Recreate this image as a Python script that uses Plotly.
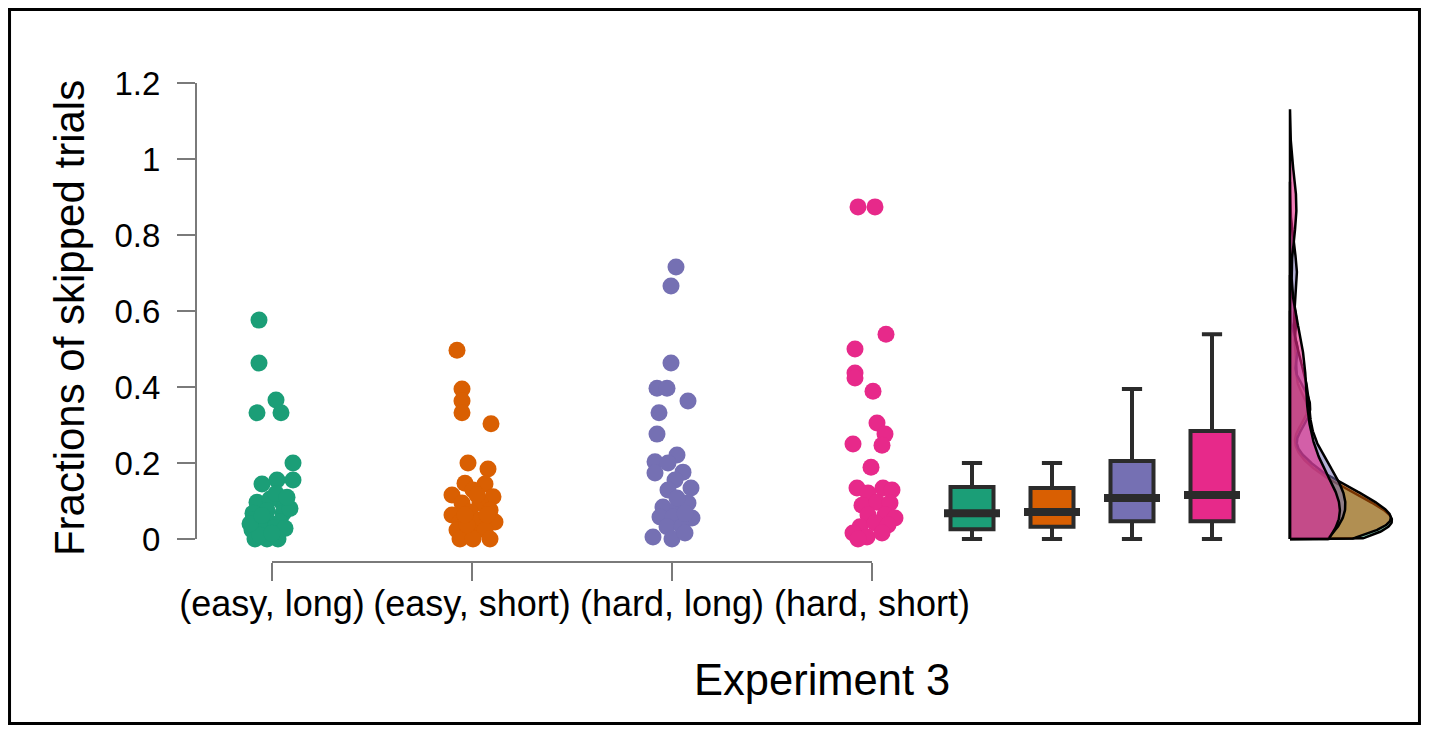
import numpy as np
import plotly.graph_objects as go

# ---------------- data ----------------
categories = ["(easy, long)", "(easy, short)", "(hard, long)", "(hard, short)"]
cat_pos = [1, 2, 3, 4]
colors = ["#1B9E77", "#D95F02", "#7570B3", "#E7298A"]
fills = ["rgba(27,158,119,0.55)", "rgba(217,95,2,0.55)",
         "rgba(117,112,179,0.55)", "rgba(231,41,138,0.6)"]

easy_long = [.576, .463, .332, .366, .332, .2, .145, .155, .155, .097, .097, .105,
             .068, .068, .075, .05, .05, .045, .08, .024, .024, .03, .028, 0, 0, 0,
             .01, .015, .04, .062, .12, .11]
easy_long_jit = [-0.065, -0.065, -0.075, 0.02, 0.045, 0.105, -0.05, 0.025, 0.105,
                 -0.075, 0.05, -0.01, -0.095, 0.055, -0.025, -0.095, -0.025, 0.04,
                 0.09, -0.1, -0.045, 0.015, 0.065, -0.085, -0.025, 0.03, -0.06, 0,
                 -0.11, -0.05, 0.02, 0.075]

easy_short = [.497, .395, .363, .332, .303, .2, .184, .147, .145, .116, .129, .111,
              .095, .095, .063, .071, .076, .045, .05, .045, .024, .024, .024, 0, 0,
              0, .037, .116, .063, .063]
easy_short_jit = [-0.075, -0.05, -0.05, -0.05, 0.095, -0.02, 0.08, -0.035, 0.065,
                  -0.1, 0.005, 0.105, -0.05, 0.04, -0.1, -0.01, 0.09, -0.06, 0.04,
                  0.115, -0.075, -0.01, 0.065, -0.06, 0.005, 0.09, -0.025, 0.025,
                  -0.035, 0.075]

hard_long = [.716, .666, .463, .397, .397, .363, .332, .276, .221, .203, .2, .174,
             .176, .155, .134, .129, .084, .084, .095, .058, .058, .055, .032, .032,
             .005, 0, .016, .108, .068]
hard_long_jit = [0.02, -0.005, -0.005, -0.075, -0.025, 0.08, -0.065, -0.075, 0.025,
                 -0.085, -0.02, -0.085, 0.055, 0.015, 0.095, -0.02, -0.045, 0.03,
                 0.08, -0.06, 0.005, 0.1, -0.025, 0.05, -0.095, 0, 0.065, 0.025,
                 0.065]

hard_short = [.874, .874, .539, .5, .437, .424, .389, .305, .276, .247, .25, .189,
              .134, .134, .129, .121, .089, .097, .095, .063, .063, .055, .032, .042,
              .037, .016, .005, .016, 0]
hard_short_jit = [-0.07, 0.015, 0.07, -0.085, -0.085, -0.085, 0.005, 0.025, 0.065,
                  0.05, -0.095, -0.005, -0.075, 0.055, 0.1, -0.02, -0.05, 0.025, 0.09,
                  -0.02, 0.065, 0.115, -0.06, 0.015, 0.08, -0.095, -0.025, 0.05, -0.07]

groups = [easy_long, easy_short, hard_long, hard_short]
jitters = [easy_long_jit, easy_short_jit, hard_long_jit, hard_short_jit]

# box summary statistics
box_pos = [4.5, 4.9, 5.3, 5.7]
box_lower = [0, 0, 0, 0]
box_q1 = [0.026, 0.032, 0.047, 0.047]
box_median = [0.068, 0.071, 0.108, 0.116]
box_q3 = [0.137, 0.134, 0.205, 0.284]
box_upper = [0.2, 0.2, 0.395, 0.539]

density_pos = 6.09
density_max_width = 0.51   # x-units for the widest density

y_tickvals = [0, 0.2, 0.4, 0.6, 0.8, 1.0, 1.2]
y_ticktext = ["0", "0.2", "0.4", "0.6", "0.8", "1", "1.2"]

FONT = "Liberation Sans, Arial, Helvetica, sans-serif"
AXIS_GREY = "#7a7a7a"
DARK = "#2b2b2b"

fig = go.Figure()

# jittered points
for vals, jit, p, c, name in zip(groups, jitters, cat_pos, colors, categories):
    fig.add_trace(go.Scatter(
        x=[p + j for j in jit], y=vals, mode="markers",
        marker=dict(size=17, color=c, line=dict(width=0)),
        showlegend=False, name=name, cliponaxis=False))

# boxes
for i in range(4):
    fig.add_trace(go.Box(
        x=[box_pos[i]], q1=[box_q1[i]], median=[box_median[i]], q3=[box_q3[i]],
        lowerfence=[box_lower[i]], upperfence=[box_upper[i]],
        fillcolor=colors[i], line=dict(color=DARK, width=4),
        width=0.215, whiskerwidth=0.47, boxpoints=False, showlegend=False,
        name=categories[i]))

# thick median bars
fig.add_trace(go.Scatter(
    x=box_pos, y=box_median, mode="markers",
    marker=dict(symbol="line-ew", size=40, line=dict(width=8, color=DARK)),
    showlegend=False, hoverinfo="skip"))


# half densities: Gaussian KDE (R's bw.nrd0), truncated at 0, cut = 3 bandwidths
def kde(vals):
    a = np.array(vals, dtype=float)
    iqr = np.percentile(a, 75) - np.percentile(a, 25)
    bw = 0.9 * min(a.std(ddof=1), iqr / 1.34) * len(a) ** (-0.2)
    grid = np.linspace(0.0, a.max() + 3 * bw, 400)
    d = np.exp(-0.5 * ((grid[:, None] - a[None, :]) / bw) ** 2).sum(axis=1)
    d /= len(a) * bw * np.sqrt(2 * np.pi)
    return grid, d


dens = [kde(v) for v in groups]
peak = max(d.max() for _, d in dens)
for (grid, d), f, name in zip(dens, fills, categories):
    xs = np.concatenate([[density_pos], density_pos + d / peak * density_max_width,
                         [density_pos, density_pos]])
    ys = np.concatenate([[grid[0]], grid, [grid[-1], grid[0]]])
    fig.add_trace(go.Scatter(
        x=xs, y=ys, mode="lines", fill="toself", fillcolor=f,
        line=dict(color="black", width=2.5), showlegend=False, name=name,
        hoverinfo="skip"))

fig.update_layout(
    width=1413, height=718,
    margin=dict(l=188, r=11, t=52, b=164),
    paper_bgcolor="white", plot_bgcolor="white",
    font=dict(family=FONT, color="black"),
    showlegend=False,
    xaxis=dict(type="linear", range=[0.62, 6.69], showgrid=False, zeroline=False,
               showline=False, tickmode="array", tickvals=cat_pos,
               ticktext=categories, ticks="outside", ticklen=18, tickwidth=2,
               tickcolor=AXIS_GREY, tickfont=dict(size=36, family=FONT),
               ticklabelstandoff=-8),
    yaxis=dict(range=[-0.0605, 1.2605], showgrid=False, zeroline=False,
               showline=False, tickmode="array", tickvals=y_tickvals,
               ticktext=y_ticktext, ticks="outside", ticklen=18, tickwidth=2,
               tickcolor=AXIS_GREY, tickfont=dict(size=33, family=FONT),
               ticklabelstandoff=10),
    shapes=[
        # x axis line (from first to last category)
        dict(type="line", xref="x", yref="paper", x0=cat_pos[0], x1=cat_pos[-1],
             y0=0, y1=0, line=dict(color=AXIS_GREY, width=2)),
        # y axis line (from first to last tick)
        dict(type="line", xref="paper", yref="y", x0=0, x1=0,
             y0=y_tickvals[0], y1=y_tickvals[-1], line=dict(color=AXIS_GREY, width=2)),
        # outer frame
        dict(type="rect", xref="paper", yref="paper", x0=-0.1536, x1=1.0078,
             y0=-0.3217, y1=1.1006, line=dict(color="black", width=3),
             fillcolor="rgba(0,0,0,0)"),
    ],
    annotations=[
        dict(text="Experiment 3", xref="paper", yref="paper", x=0.5157, y=-0.235,
             showarrow=False, font=dict(size=43.5, family=FONT), xanchor="center",
             yanchor="middle"),
        dict(text="Fractions of skipped trials", xref="paper", yref="paper",
             x=-0.1046, y=0.486, textangle=-90, showarrow=False,
             font=dict(size=42, family=FONT), xanchor="center", yanchor="middle"),
    ],
)

fig.write_html("out.html")
